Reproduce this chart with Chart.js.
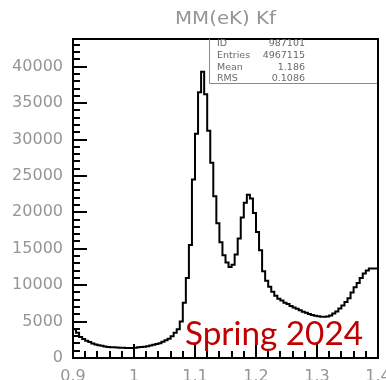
<!DOCTYPE html>
<html>
<head>
<meta charset="utf-8">
<title>MM(eK) Kf</title>
<script src="https://cdn.jsdelivr.net/npm/chart.js@4/dist/chart.umd.min.js"></script>
<style>
    html, body { margin: 0; padding: 0; background: #fff; }
    #chart { display: block; }
</style>
</head>
<body>
<canvas id="chart" width="386" height="380"></canvas>
<script>
// histogram binning (100 bins from 0.9 to 1.4)
const xMin = 0.9;
const xMax = 1.4;
const binWidth = 0.005;

// counts per bin
const counts = [
    4300, 3950, 3450, 2880, 2620, 2380, 2180, 1980, 1860, 1760,
    1670, 1570, 1510, 1490, 1460, 1450, 1420, 1400, 1390, 1385,
    1390, 1420, 1460, 1510, 1560, 1610, 1710, 1820, 1930, 2040,
    2230, 2440, 2660, 3000, 3450, 3950, 5000, 7600, 11000, 15500,
    24500, 30800, 36500, 39300, 36200, 31200, 26800, 22200, 18500, 15900,
    14100, 13100, 12500, 12800, 14200, 16400, 19300, 21300, 22400, 21900,
    19900, 17300, 14800, 11900, 10600, 9800, 9100, 8550, 8150, 7900,
    7600, 7400, 7150, 6950, 6750, 6550, 6350, 6200, 6050, 5900,
    5800, 5720, 5680, 5660, 5700, 5850, 6100, 6400, 6800, 7200,
    7700, 8200, 9000, 9700, 10300, 11000, 11600, 12000, 12300, 12300
];

// axis settings
const yMax = 43800;
const yTickValues = [0, 5000, 10000, 15000, 20000, 25000, 30000, 35000, 40000];
const xTickValues = [0.9, 1.0, 1.1, 1.2, 1.3, 1.4];
const yMinor = 1000;
const xMinor = 0.02;

// texts
const histTitle = 'MM(eK) Kf';
const statLabels = ['ID', 'Entries', 'Mean', 'RMS'];
const statValues = ['987101', '4967115', '1.186', '0.1086'];
const stamp = 'Spring 2024';

// points at the left edge of each bin, plus the closing edge
const histPoints = counts.map((c, i) => ({ x: xMin + i * binWidth, y: c }));
histPoints.push({ x: xMax, y: counts[counts.length - 1] });

const tickGray = '#959595';

// frame, inner ticks, title, stats box and stamp
const rootStyle = {
    id: 'rootStyle',
    afterDraw: function(chart) {
        const ctx = chart.ctx;
        const area = chart.chartArea;
        const xs = chart.scales.x;
        const ys = chart.scales.y;

        ctx.save();
        ctx.strokeStyle = '#000';
        ctx.lineWidth = 2;

        // y ticks (inside, left side), long ones on labelled values
        ctx.beginPath();
        const nY = Math.floor(yMax / yMinor);
        for (let k = 0; k <= nY; k++) {
            const v = k * yMinor;
            const y = Math.round(ys.getPixelForValue(v));
            const len = yTickValues.includes(v) ? 14 : 7;
            ctx.moveTo(area.left, y);
            ctx.lineTo(area.left + len, y);
        }
        // x ticks (inside, bottom)
        const nX = Math.round((xMax - xMin) / xMinor);
        for (let k = 0; k <= nX; k++) {
            const x = Math.round(xs.getPixelForValue(xMin + k * xMinor));
            const len = (k % 5 === 0) ? 14 : 7;
            ctx.moveTo(x, area.bottom);
            ctx.lineTo(x, area.bottom - len);
        }
        ctx.stroke();

        // frame
        ctx.strokeRect(area.left, area.top, area.right - area.left, area.bottom - area.top);

        // stats box
        const boxLeft = 209.5;
        const boxBottom = 83.5;
        ctx.strokeStyle = '#8a8a8a';
        ctx.lineWidth = 1;
        ctx.beginPath();
        ctx.moveTo(boxLeft, area.top);
        ctx.lineTo(boxLeft, boxBottom);
        ctx.lineTo(area.right - 1, boxBottom);
        ctx.stroke();

        ctx.fillStyle = '#6a6a6a';
        ctx.font = '9.5px "DejaVu Sans"';
        ctx.textBaseline = 'middle';
        statLabels.forEach((lab, i) => {
            const y = 44 + i * 11.6;
            ctx.textAlign = 'left';
            ctx.fillText(lab, 217, y);
            ctx.textAlign = 'right';
            ctx.fillText(statValues[i], 305, y);
        });

        // title, stretched a little like the ROOT font
        ctx.fillStyle = tickGray;
        ctx.font = '17px "DejaVu Sans"';
        ctx.textAlign = 'center';
        ctx.textBaseline = 'middle';
        const tw = ctx.measureText(histTitle).width;
        ctx.save();
        ctx.translate((area.left + area.right) / 2, 20);
        ctx.scale(101 / tw, 1);
        ctx.fillText(histTitle, 0, 0);
        ctx.restore();

        // stamp
        ctx.fillStyle = '#c00000';
        ctx.font = '32px Lato';
        ctx.textAlign = 'left';
        ctx.textBaseline = 'alphabetic';
        const sw = ctx.measureText(stamp).width;
        ctx.save();
        ctx.translate(185, 345);
        ctx.scale(178 / sw, 1);
        ctx.fillText(stamp, 0, 0);
        ctx.restore();

        ctx.restore();
    }
};

new Chart(document.getElementById('chart').getContext('2d'), {
    type: 'line',
    data: {
        datasets: [{
            data: histPoints,
            stepped: 'after',
            borderColor: '#000',
            borderWidth: 2,
            pointRadius: 0,
            fill: false
        }]
    },
    options: {
        responsive: false,
        animation: false,
        devicePixelRatio: 1,
        layout: {
            autoPadding: false,
            padding: { top: 39, right: 8, left: 0, bottom: 0 }
        },
        plugins: {
            legend: { display: false },
            tooltip: { enabled: false },
            title: { display: false }
        },
        scales: {
            x: {
                type: 'linear',
                min: xMin,
                max: xMax,
                afterBuildTicks: function(scale) {
                    scale.ticks = xTickValues.map(v => ({ value: v }));
                },
                afterFit: function(scale) {
                    scale.height = 22;
                    scale.paddingLeft = 0;
                    scale.paddingRight = 0;
                },
                grid: { display: false, drawTicks: false },
                border: { display: false },
                ticks: {
                    maxRotation: 0,
                    autoSkip: false,
                    padding: 9,
                    color: tickGray,
                    font: { family: 'DejaVu Sans', size: 16 },
                    callback: function(value) {
                        return String(Math.round(value * 10) / 10);
                    }
                }
            },
            y: {
                type: 'linear',
                min: 0,
                max: yMax,
                afterBuildTicks: function(scale) {
                    scale.ticks = yTickValues.map(v => ({ value: v }));
                },
                afterFit: function(scale) {
                    scale.width = 73;
                    scale.paddingTop = 0;
                    scale.paddingBottom = 0;
                },
                grid: { display: false, drawTicks: false },
                border: { display: false },
                ticks: {
                    autoSkip: false,
                    padding: 10,
                    color: tickGray,
                    font: { family: 'DejaVu Sans', size: 16 },
                    callback: function(value) { return String(value); }
                }
            }
        }
    },
    plugins: [rootStyle]
});
</script>
</body>
</html>
